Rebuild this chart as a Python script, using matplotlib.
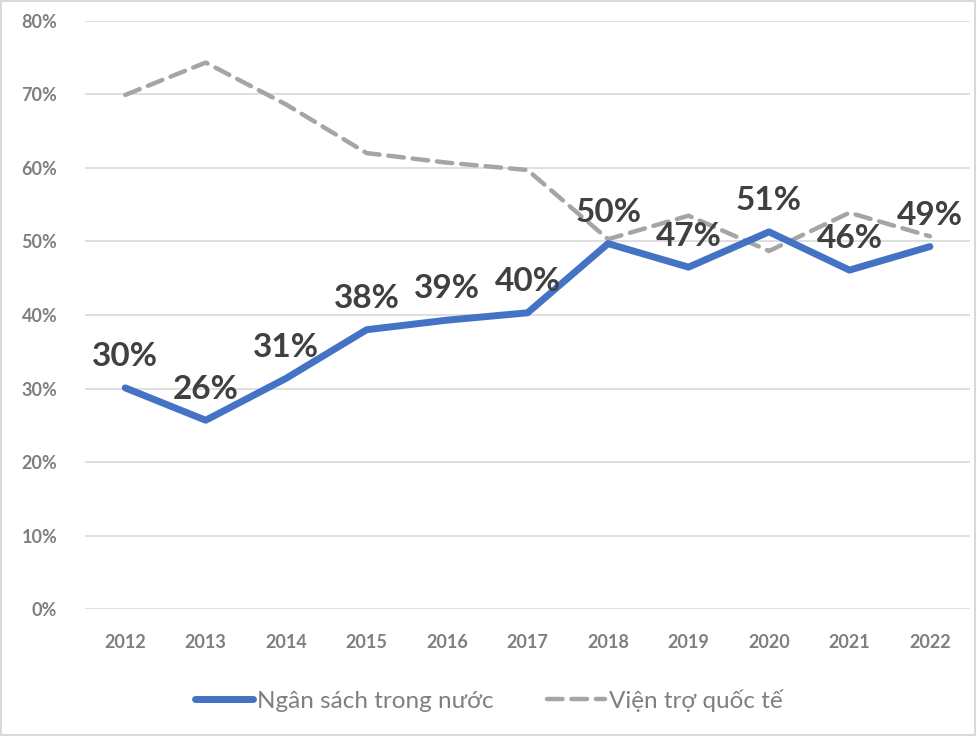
import matplotlib.pyplot as plt
from matplotlib.patches import Rectangle
from matplotlib.ticker import FuncFormatter

plt.rcParams['font.family'] = ['Lato', 'DejaVu Sans']

years = ['2012', '2013', '2014', '2015', '2016', '2017', '2018', '2019', '2020', '2021', '2022']
domestic = [30.1, 25.7, 31.4, 38.0, 39.3, 40.3, 49.7, 46.5, 51.3, 46.1, 49.3]
foreign = [69.9, 74.3, 68.6, 62.0, 60.7, 59.7, 50.3, 53.5, 48.7, 53.9, 50.7]
labels = ['30%', '26%', '31%', '38%', '39%', '40%', '50%', '47%', '51%', '46%', '49%']

fig = plt.figure(figsize=(9.77, 7.36), dpi=100)
ax = fig.add_axes([0.087, 0.172, 0.906, 0.8])

x = list(range(len(years)))
ax.plot(x, domestic, color='#4472c4', lw=5, solid_capstyle='round',
        solid_joinstyle='round', label='Ngân sách trong nước', zorder=3)
ax.plot(x, foreign, color='#a5a5a5', lw=3.2, ls=(0, (3.5, 2)), dash_capstyle='round',
        label='Viện trợ quốc tế', zorder=2)

for xi, yi, t in zip(x, domestic, labels):
    ax.annotate(t, (xi, yi), xytext=(0, 12), textcoords='offset points',
                ha='center', va='bottom', fontsize=24, fontweight='bold',
                color='#404040', zorder=4)

ax.set_xlim(-0.5, len(years) - 0.5)
ax.set_ylim(0, 80)
ax.set_yticks(range(0, 81, 10))
ax.yaxis.set_major_formatter(FuncFormatter(lambda v, p: f'{v:.0f}%'))
ax.set_xticks(x)
ax.set_xticklabels(years)
ax.grid(axis='y', color='#d9d9d9', lw=1.2)
ax.set_axisbelow(True)
for s in ax.spines.values():
    s.set_visible(False)
ax.tick_params(length=0, labelsize=13, labelcolor='#7f7f7f')
ax.tick_params(axis='x', pad=18)
ax.tick_params(axis='y', pad=20)
for lab in ax.get_xticklabels() + ax.get_yticklabels():
    lab.set_fontweight('bold')

leg = fig.legend(loc='center', bbox_to_anchor=(0.5, 0.048), ncol=2, frameon=False,
                 fontsize=17.5, labelcolor='#7f7f7f', handlelength=2.4,
                 columnspacing=2.2, handletextpad=0.15)

fig.patches.append(Rectangle((0.001, 0.001), 0.997, 0.997, transform=fig.transFigure,
                             fill=False, edgecolor='#d9d9d9', lw=1.5))

fig.savefig('out.png', dpi=100)
